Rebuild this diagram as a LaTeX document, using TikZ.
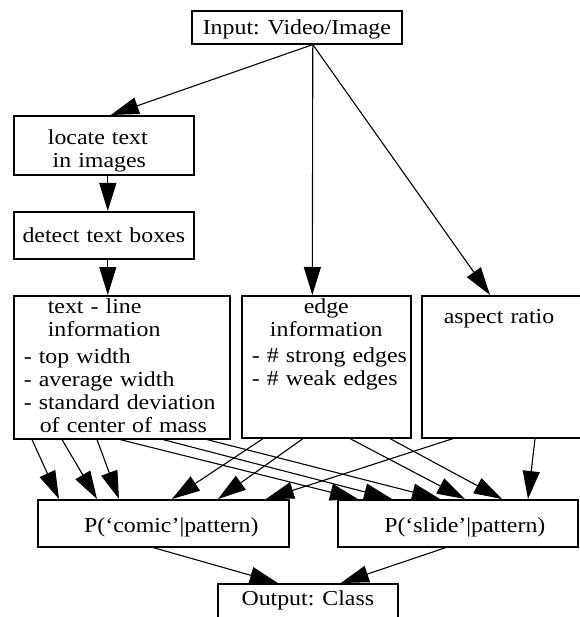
\documentclass[tikz,border=0pt]{standalone}
\usepackage{fontspec}
\setmainfont{Liberation Serif}[FakeStretch=1.12]
\usetikzlibrary{arrows.meta}

\tikzset{
  box/.style={draw, line width=1.6pt, anchor=north west, inner ysep=0pt, inner xsep=0pt,
    font=\fontsize{21.3}{23}\selectfont},
  arr/.style={-{Triangle[length=28pt,width=17pt]}, line width=1.1pt},
}

\begin{document}
\begin{tikzpicture}[x=1pt,y=-1pt]
\useasboundingbox (0,0) rectangle (579,617);

\node[box,minimum width=210pt,text height=24pt,text depth=9pt] (inp) at (191,10) {Input: Video/Image};
\node[box,text width=180pt,align=center,text height=29pt,text depth=30pt] (loc) at (13,115)
  {locate text\hspace{12pt}\mbox{}\\in images\hspace{9pt}\mbox{}};
\node[box,text width=180pt,align=center,text height=31pt,text depth=16pt] (det) at (13,211) {detect text boxes};
\node[box,inner xsep=10pt,text width=196pt,align=left,text height=18pt,text depth=125pt] (tl) at (13,295)
  {\hspace*{24pt}text - line\\\hspace*{24pt}information\\[4pt]- top width\\- average width\\- standard deviation\\\hspace*{16pt}of center of mass};
\node[box,text width=169pt,align=left,text height=18pt,text depth=124pt] (edge) at (241,295)
  {{\centering edge\\information\\[3pt]}\hspace*{10pt}- \# strong edges\\\hspace*{10pt}- \# weak edges};
\node[box,inner xsep=22pt,text width=126pt,align=left,text height=28pt,text depth=114pt] (asp) at (421,295) {aspect ratio};
\node[box,minimum width=251pt,text height=33pt,text depth=14pt] (comic) at (37,499) {\hspace*{16pt}P(`comic'|pattern)};
\node[box,minimum width=240pt,text height=33pt,text depth=14pt] (slide) at (337,499) {\hspace*{14pt}P(`slide'|pattern)};
\node[box,minimum width=180pt,text height=22pt,text depth=14pt] (out) at (217,583) {Output: Class};

% top part
\draw[arr] ([xshift=16pt]inp.south) -- ([xshift=7pt]loc.north);
\draw[arr] ([xshift=16pt]inp.south) -- ([xshift=-14pt]edge.north);
\draw[arr] ([xshift=16pt]inp.south) -- ([xshift=69pt]asp.north west);
\draw[arr] ([xshift=4pt]loc.south) -- ([xshift=4pt]det.north);
\draw[arr] ([xshift=4pt]det.south) -- ([xshift=-14pt]tl.north);

% features to classes
\foreach \a/\b in {19/22,49/60,84/82}
  \draw[arr] ([xshift=\a pt]tl.south west) -- ([xshift=\b pt]comic.north west);
\foreach \a/\b in {107/21,150/55,194/103}
  \draw[arr] ([xshift=\a pt]tl.south west) -- ([xshift=\b pt]slide.north west);
\foreach \a/\b in {22/135,62/181}
  \draw[arr] ([xshift=\a pt]edge.south west) -- ([xshift=\b pt]comic.north west);
\foreach \a/\b in {109/128,149/165}
  \draw[arr] ([xshift=\a pt]edge.south west) -- ([xshift=\b pt]slide.north west);
\draw[arr] ([xshift=32pt]asp.south west) -- ([xshift=229pt]comic.north west);
\draw[arr] ([xshift=114pt]asp.south west) -- ([xshift=191pt]slide.north west);

% output
\draw[arr] ([xshift=-10pt]comic.south) -- ([xshift=-30pt]out.north);
\draw[arr] ([xshift=-12pt]slide.south) -- ([xshift=33pt]out.north);
\end{tikzpicture}
\end{document}
